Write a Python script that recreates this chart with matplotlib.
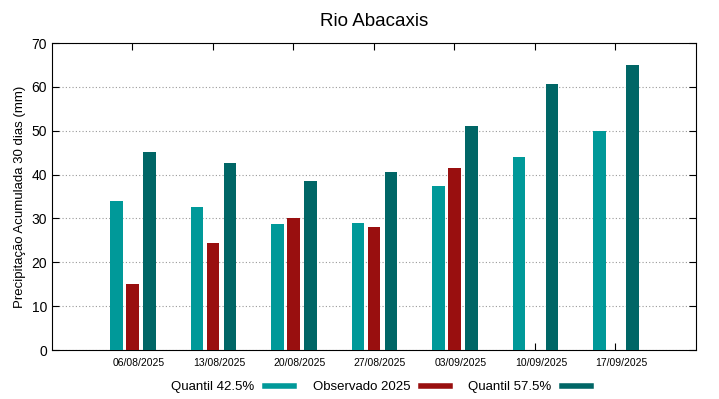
import matplotlib.pyplot as plt
import numpy as np
import matplotlib.transforms as mtransforms
from matplotlib.lines import Line2D

plt.rcParams['font.family'] = ['Liberation Sans', 'DejaVu Sans']

# data
datas = ["06/08/2025", "13/08/2025", "20/08/2025", "27/08/2025",
         "03/09/2025", "10/09/2025", "17/09/2025"]
q425 = [34.0, 32.7, 28.7, 29.0, 37.5, 44.1, 49.9]
obs = [15.0, 24.3, 30.2, 28.0, 41.4, np.nan, np.nan]
q575 = [45.2, 42.6, 38.5, 40.5, 51.0, 60.6, 65.0]

c1 = "#009999"
c2 = "#990f0f"
c3 = "#006666"

fig = plt.figure(figsize=(7.19, 3.99), dpi=100)
ax = fig.add_axes([0.0723, 0.1228, 0.8957, 0.7692])

x = np.arange(len(datas))
w = 0.155
ax.bar(x - 0.2, q425, w, color=c1, zorder=3)
ax.bar(x, obs, w, color=c2, zorder=3)
ax.bar(x + 0.21, q575, w, color=c3, zorder=3)

ax.set_xlim(-1, 7)
ax.set_ylim(0, 70)
ax.set_yticks(range(0, 71, 10))
ax.set_xticks(x)
ax.set_xticklabels(datas, fontsize=7.5)
ax.tick_params(axis='y', labelsize=10, direction='in', right=True, length=5)
ax.tick_params(axis='x', direction='in', top=True, length=5, pad=6)
# gnuplot puts the date labels a bit to the right of the tick
off = mtransforms.ScaledTranslation(6 / 100, 0, fig.dpi_scale_trans)
for lab in ax.get_xticklabels():
    lab.set_transform(lab.get_transform() + off)
ax.yaxis.grid(True, linestyle=(0, (1, 2)), color='#999999', linewidth=0.8)
ax.set_axisbelow(True)
for s in ax.spines.values():
    s.set_linewidth(0.8)

ax.set_ylabel("Precipitação Acumulada 30 dias (mm)", fontsize=9.5)
ax.set_title("Rio Abacaxis", fontsize=13.5, pad=12)

handles = [Line2D([0], [0], color=c1, lw=4),
           Line2D([0], [0], color=c2, lw=4),
           Line2D([0], [0], color=c3, lw=4)]
fig.legend(handles, ["Quantil 42.5%", "Observado 2025", "Quantil 57.5%"],
           loc='center', bbox_to_anchor=(0.53, 0.03), ncol=3, frameon=False,
           markerfirst=False, fontsize=9.5, handlelength=2.2, columnspacing=1.4,
           handletextpad=0.8)

fig.savefig("out.png", dpi=100)
